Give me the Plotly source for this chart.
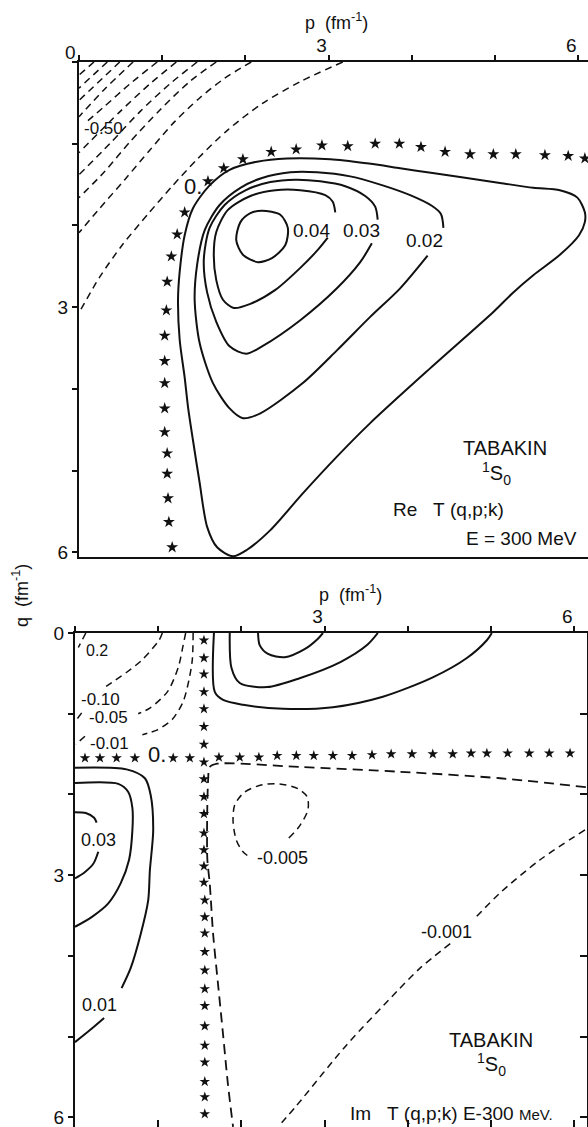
import plotly.graph_objects as go

FONT = "Liberation Sans"
INK = "#111111"
W, H = 588, 1127

# ---------------- upper panel: Re T(q,p;k) ----------------
# zero line (stars)
re_zero_p = [1.12, 1.08, 1.07, 1.06, 1.06, 1.03, 1.03, 1.03, 1.03, 1.03, 1.05, 1.06, 1.11, 1.18, 1.27,
             1.55, 1.74, 1.97, 2.31, 2.61, 2.92, 3.23, 3.56, 3.85, 4.11, 4.40, 4.70, 4.98, 5.25, 5.60,
             5.88, 6.08]
re_zero_q = [5.94, 5.63, 5.34, 5.04, 4.79, 4.53, 4.24, 3.93, 3.66, 3.35, 3.04, 2.69, 2.38, 2.11, 1.84,
             1.46, 1.30, 1.19, 1.10, 1.07, 1.02, 1.03, 1.00, 1.00, 1.04, 1.10, 1.13, 1.13, 1.13, 1.14,
             1.15, 1.18]

# positive levels (solid)
re_c05_p = [2.20, 2.42, 2.51, 2.48, 2.32, 2.15, 1.97, 1.89, 1.94, 2.06, 2.20]
re_c05_q = [1.82, 1.87, 2.03, 2.24, 2.40, 2.45, 2.36, 2.18, 1.96, 1.85, 1.82]

re_c04_p = [3.08, 3.05, 2.96, 2.66, 2.36, 2.06, 1.79, 1.65, 1.62, 1.65, 1.73, 1.86, 2.06, 2.36, 2.66,
            2.87, 2.99]
re_c04_q = [1.84, 1.71, 1.63, 1.57, 1.57, 1.64, 1.81, 2.08, 2.36, 2.67, 2.91, 3.01, 2.96, 2.79, 2.52,
            2.30, 2.15]

re_c03_p = [3.59, 3.56, 3.44, 3.20, 2.90, 2.60, 2.30, 2.00, 1.75, 1.57, 1.50, 1.54, 1.65, 1.81, 2.01,
            2.20, 2.66, 3.10, 3.38, 3.52]
re_c03_q = [1.93, 1.77, 1.64, 1.52, 1.46, 1.44, 1.47, 1.57, 1.75, 2.03, 2.42, 2.82, 3.18, 3.48, 3.57,
            3.48, 3.16, 2.77, 2.45, 2.22]

re_c02_p = [4.38, 4.35, 4.24, 3.98, 3.65, 3.26, 2.86, 2.54, 2.20, 1.94, 1.69, 1.51, 1.42, 1.39, 1.45,
            1.61, 1.81, 1.97, 2.18, 2.69, 3.10, 3.50, 3.86, 4.19]
re_c02_q = [2.03, 1.86, 1.76, 1.63, 1.51, 1.40, 1.35, 1.35, 1.42, 1.54, 1.75, 2.06, 2.48, 2.91, 3.44,
            3.93, 4.24, 4.36, 4.30, 3.93, 3.53, 3.12, 2.77, 2.37]

re_c01_p = [1.85, 1.66, 1.54, 1.45, 1.37, 1.31, 1.27, 1.21, 1.19, 1.21, 1.27, 1.37, 1.57, 1.81, 2.14,
            2.50, 3.02, 3.46, 3.86, 4.25, 4.66, 5.06, 5.46, 5.78, 5.99, 6.08, 6.08, 6.01, 5.78, 5.46,
            5.22, 4.98, 4.22, 3.50, 3.10, 2.69, 2.30, 2.02, 1.85]
re_c01_q = [6.05, 5.94, 5.69, 5.15, 4.63, 4.22, 3.86, 3.40, 2.91, 2.57, 2.12, 1.79, 1.51, 1.32, 1.22,
            1.18, 1.19, 1.24, 1.30, 1.36, 1.42, 1.48, 1.54, 1.57, 1.66, 1.84, 1.96, 2.12, 2.36, 2.61,
            2.82, 3.06, 3.75, 4.42, 4.83, 5.28, 5.73, 5.97, 6.05]

# negative levels (dashed), from the p axis down to the q axis
re_n1_p, re_n1_q = [0.18, 0.00], [0.00, 0.16]
re_n2_p, re_n2_q = [0.34, 0.00], [0.00, 0.32]
re_n3_p, re_n3_q = [0.49, 0.00], [0.00, 0.47]
re_n4_p, re_n4_q = [0.65, 0.31, 0.00], [0.00, 0.33, 0.67]
re_n5_p, re_n5_q = [0.94, 0.61, 0.31, 0.06], [0.00, 0.27, 0.54, 0.76]
re_n6_p, re_n6_q = [1.17, 0.85, 0.49, 0.00], [0.00, 0.27, 0.61, 1.11]
re_n7_p, re_n7_q = [1.42, 1.09, 0.73, 0.37, 0.00], [0.00, 0.27, 0.61, 1.00, 1.38]
re_n8_p, re_n8_q = [1.65, 1.33, 0.97, 0.61, 0.30, 0.00], [0.00, 0.24, 0.59, 0.98, 1.35, 1.66]
re_n9_p = [2.07, 1.75, 1.45, 1.15, 0.85, 0.55, 0.25, 0.00]
re_n9_q = [0.00, 0.20, 0.44, 0.73, 1.08, 1.44, 1.79, 2.09]
re_n10_p = [3.17, 2.66, 2.20, 1.79, 1.43, 1.12, 0.83, 0.52, 0.25, 0.00]
re_n10_q = [0.00, 0.24, 0.51, 0.83, 1.18, 1.52, 1.86, 2.24, 2.63, 3.07]

# ---------------- lower panel: Im T(q,p;k) ----------------
im_zero_row_p = [0.12, 0.30, 0.50, 0.72, 1.18, 1.38, 1.73, 1.98, 2.21, 2.43, 2.66, 2.87, 3.10, 3.33,
                 3.57, 3.80, 4.05, 4.30, 4.54, 4.76, 4.95, 5.20, 5.46, 5.70, 5.95]
im_zero_row_q = [1.55, 1.55, 1.55, 1.55, 1.55, 1.55, 1.54, 1.54, 1.54, 1.52, 1.52, 1.52, 1.52, 1.52,
                 1.51, 1.50, 1.50, 1.50, 1.50, 1.49, 1.49, 1.49, 1.49, 1.49, 1.49]
im_zero_col_p = [1.55] * 15 + [1.56] * 13
im_zero_col_q = [0.09, 0.31, 0.51, 0.73, 0.94, 1.16, 1.38, 1.60, 1.81, 2.03, 2.24, 2.48, 2.69, 2.89,
                 3.09, 3.31, 3.52, 3.72, 3.95, 4.18, 4.41, 4.62, 4.87, 5.11, 5.32, 5.56, 5.75, 5.96]

# positive levels, upper right (solid)
im_ur1_p = [2.20, 2.22, 2.32, 2.52, 2.76, 2.92, 2.98]
im_ur1_q = [0.00, 0.15, 0.26, 0.30, 0.20, 0.07, 0.00]
im_ur2_p = [1.86, 1.88, 1.98, 2.31, 2.70, 3.19, 3.51, 3.64]
im_ur2_q = [0.00, 0.43, 0.62, 0.67, 0.56, 0.36, 0.15, 0.00]
im_ur3_p = [1.67, 1.68, 1.78, 2.02, 2.50, 3.10, 3.70, 4.30, 4.71, 4.95, 5.01]
im_ur3_q = [0.00, 0.73, 0.83, 0.89, 0.94, 0.92, 0.79, 0.55, 0.31, 0.09, 0.00]

# positive levels, lower left (solid)
im_c03a_p, im_c03a_q = [0.00, 0.13, 0.23, 0.26], [2.22, 2.23, 2.29, 2.35]
im_c03b_p, im_c03b_q = [0.28, 0.22, 0.11, 0.00], [2.71, 2.86, 2.97, 3.04]
im_c02_p = [0.00, 0.52, 0.64, 0.69, 0.69, 0.65, 0.55, 0.40, 0.20, 0.00]
im_c02_q = [1.86, 1.87, 1.97, 2.17, 2.44, 2.81, 3.10, 3.35, 3.52, 3.64]
im_c01a_p = [0.00, 0.62, 0.84, 0.91, 0.94, 0.90, 0.88, 0.79, 0.67, 0.56]
im_c01a_q = [1.67, 1.69, 1.80, 2.01, 2.44, 2.94, 3.31, 3.73, 4.15, 4.40]
im_c01b_p, im_c01b_q = [0.35, 0.18, 0.00], [4.77, 4.92, 5.07]

# negative levels (dashed)
im_n02_p, im_n02_q = [0.13, 0.04], [0.00, 0.18]
im_n010_p = [1.05, 1.01, 0.81, 0.63, 0.49, 0.35]
im_n010_q = [0.00, 0.09, 0.33, 0.48, 0.58, 0.68]
im_n005_p = [1.33, 1.30, 1.24, 1.11, 0.90, 0.76]
im_n005_q = [0.00, 0.15, 0.43, 0.73, 0.93, 1.00]
im_n005s_p, im_n005s_q = [0.08, 0.00], [0.99, 1.10]
im_n001_p = [1.42, 1.41, 1.37, 1.30, 1.17, 0.99, 0.81]
im_n001_q = [0.00, 0.33, 0.58, 0.85, 1.07, 1.20, 1.26]
im_n001s_p, im_n001s_q = [0.12, 0.01], [1.28, 1.38]
im_edge_p = [6.14, 5.11, 3.91, 2.70, 1.71, 1.62, 1.60, 1.59, 1.62, 1.66, 1.72, 1.78, 1.84, 1.90]
im_edge_q = [1.91, 1.80, 1.72, 1.66, 1.62, 1.66, 1.82, 2.79, 3.11, 3.73, 4.36, 4.98, 5.61, 6.12]
im_n0005_p = [2.57, 2.70, 2.80, 2.79, 2.68, 2.46, 2.25, 2.04, 1.92, 1.90, 1.94, 2.01, 2.10]
im_n0005_q = [2.54, 2.39, 2.19, 2.03, 1.93, 1.87, 1.88, 1.97, 2.13, 2.34, 2.57, 2.70, 2.78]
im_n0001a_p, im_n0001a_q = [6.13, 5.59, 5.11, 4.82], [2.44, 2.81, 3.22, 3.52]
im_n0001b_p = [4.51, 4.15, 3.87, 3.26, 2.66, 2.44]
im_n0001b_q = [3.85, 4.15, 4.44, 5.11, 5.86, 6.12]

# labelled ticks every 3 fm^-1, plain ticks every 1 fm^-1
MAJOR = [0, 3, 6]
MAJOR_NOZERO = [3, 6]
MINOR = [0, 1, 2, 4, 5]

fig = go.Figure()


def curve(p, q, panel, dash="solid", width=2.0, smooth=True):
    ax = "" if panel == 1 else "2"
    fig.add_trace(go.Scatter(
        x=p, y=q, xaxis="x" + ax, yaxis="y" + ax, mode="lines",
        line=dict(color=INK, width=width, dash=dash,
                  shape="spline" if smooth else "linear", smoothing=0.8),
        hoverinfo="skip"))


def stars(p, q, panel, size=9):
    ax = "" if panel == 1 else "2"
    fig.add_trace(go.Scatter(
        x=p, y=q, xaxis="x" + ax, yaxis="y" + ax, mode="markers",
        marker=dict(symbol="star", size=size, color=INK, line=dict(width=0)),
        hoverinfo="skip"))


def label(text, p, q, panel, size=18, xanchor="center"):
    ax = "" if panel == 1 else "2"
    fig.add_annotation(x=p, y=q, xref="x" + ax, yref="y" + ax, text=text, showarrow=False,
                       xanchor=xanchor, yanchor="middle",
                       font=dict(family=FONT, size=size, color=INK))


def paper_text(text, px, py, size=18, angle=0):
    fig.add_annotation(x=px / W, y=1 - py / H, xref="paper", yref="paper", showarrow=False,
                       xanchor="center", yanchor="middle", textangle=angle, text=text,
                       font=dict(family=FONT, size=size, color=INK))


DASH = "7px,5px"

# upper panel
for p, q in [(re_n1_p, re_n1_q), (re_n2_p, re_n2_q), (re_n3_p, re_n3_q), (re_n4_p, re_n4_q),
             (re_n5_p, re_n5_q), (re_n6_p, re_n6_q), (re_n7_p, re_n7_q), (re_n8_p, re_n8_q),
             (re_n9_p, re_n9_q), (re_n10_p, re_n10_q)]:
    curve(p, q, 1, dash=DASH, width=1.5)
for p, q in [(re_c05_p, re_c05_q), (re_c04_p, re_c04_q), (re_c03_p, re_c03_q),
             (re_c02_p, re_c02_q), (re_c01_p, re_c01_q)]:
    curve(p, q, 1)
stars(re_zero_p, re_zero_q, 1)

label("-0.50", 0.29, 0.81, 1, size=17)
label("0.", 1.37, 1.53, 1, size=22)
label("0.04", 2.80, 2.06, 1, size=19)
label("0.03", 3.40, 2.06, 1, size=19)
label("0.02", 4.15, 2.18, 1, size=19)
label("TABAKIN", 5.12, 4.72, 1, size=20)
label("<sup>1</sup>S<sub>0</sub>", 5.02, 5.04, 1, size=20)
label("Re\u00a0\u00a0\u00a0T\u00a0(q,p;k)", 4.44, 5.48, 1, size=19)
label("E = 300 MeV", 5.32, 5.83, 1, size=19)

# lower panel
for p, q in [(im_n02_p, im_n02_q), (im_n010_p, im_n010_q), (im_n005_p, im_n005_q),
             (im_n005s_p, im_n005s_q), (im_n001_p, im_n001_q), (im_n001s_p, im_n001s_q),
             (im_n0005_p, im_n0005_q), (im_n0001a_p, im_n0001a_q), (im_n0001b_p, im_n0001b_q)]:
    curve(p, q, 2, dash=DASH, width=1.5)
curve(im_edge_p, im_edge_q, 2, dash="10px,6px", width=1.8)
for p, q in [(im_ur1_p, im_ur1_q), (im_ur2_p, im_ur2_q), (im_ur3_p, im_ur3_q),
             (im_c03a_p, im_c03a_q), (im_c03b_p, im_c03b_q), (im_c02_p, im_c02_q),
             (im_c01a_p, im_c01a_q), (im_c01b_p, im_c01b_q)]:
    curve(p, q, 2)
stars(im_zero_row_p, im_zero_row_q, 2, size=8)
stars(im_zero_col_p, im_zero_col_q, 2, size=8)

label("0.2", 0.26, 0.22, 2, size=16)
label("-0.10", 0.31, 0.82, 2, size=17)
label("-0.05", 0.40, 1.05, 2, size=17)
label("-0.01", 0.42, 1.37, 2, size=17)
label("0.", 0.99, 1.50, 2, size=22)
label("0.03", 0.28, 2.57, 2, size=18)
label("0.01", 0.30, 4.61, 2, size=18)
label("-0.005", 2.49, 2.79, 2, size=18)
label("-0.001", 4.47, 3.71, 2, size=18)
label("TABAKIN", 5.00, 5.04, 2, size=20)
label("<sup>1</sup>S<sub>0</sub>", 5.00, 5.35, 2, size=20)
label("Im\u00a0\u00a0\u00a0T\u00a0(q,p;k)\u00a0E-300\u00a0<span style='font-size:15px'>MeV.</span>",
      3.28, 5.96, 2, size=19, xanchor="left")

# empty traces that bring the inner-tick frame axes of the lower panel into play
fig.add_trace(go.Scatter(x=[], y=[], xaxis="x3", yaxis="y2", hoverinfo="skip"))
fig.add_trace(go.Scatter(x=[], y=[], xaxis="x2", yaxis="y3", hoverinfo="skip"))

axis_common = dict(showgrid=False, zeroline=False, showline=True, linecolor=INK, linewidth=2,
                   tickcolor=INK, tickwidth=1.5, tickmode="array", fixedrange=True,
                   automargin=False, ticklabeloverflow="allow",
                   tickfont=dict(family=FONT, size=19, color=INK))


def minor(kind):
    return dict(tickmode="array", tickvals=MINOR, ticks=kind, ticklen=5 if kind == "outside" else 7,
                tickwidth=1.5, tickcolor=INK, showgrid=False)


top_y0 = 1 - 557 / H
top_y1 = 1 - 62 / H
bot_y1 = 1 - 633 / H

fig.update_layout(
    width=W, height=H, margin=dict(l=0, r=0, t=0, b=0, autoexpand=False),
    paper_bgcolor="white", plot_bgcolor="white", showlegend=False,
    xaxis=dict(axis_common, domain=[79 / W, 1.0], range=[0, 509 / 83.2], side="top",
               anchor="y", mirror=True, ticks="outside", ticklen=5, tickvals=MAJOR_NOZERO,
               ticklabelshift=-7, ticklabelstandoff=-5, minor=minor("outside")),
    yaxis=dict(axis_common, domain=[top_y0, top_y1], range=[495 / 81.7, 0], anchor="x",
               ticks="outside", ticklen=5, tickvals=MAJOR_NOZERO, minor=minor("outside")),
    xaxis2=dict(axis_common, domain=[75 / W, 587 / W], range=[0, 512 / 83.2], side="top",
                anchor="y2", ticks="outside", ticklen=5, tickvals=MAJOR_NOZERO,
                ticklabelshift=-7, ticklabelstandoff=-5, minor=minor("outside")),
    yaxis2=dict(axis_common, domain=[0, bot_y1], range=[494 / 80.7, 0], anchor="x2",
                ticks="outside", ticklen=5, tickvals=MAJOR, minor=minor("outside")),
    xaxis3=dict(axis_common, overlaying="x2", side="bottom", anchor="y2",
                range=[0, 512 / 83.2], showline=False, ticks="inside", ticklen=7,
                tickvals=MAJOR, showticklabels=False, minor=minor("inside")),
    yaxis3=dict(axis_common, overlaying="y2", side="right", anchor="x2",
                range=[494 / 80.7, 0], ticks="inside", ticklen=7, tickvals=MAJOR,
                showticklabels=False, minor=minor("inside")),
)

# axis titles
paper_text("p\u00a0\u00a0(fm<sup>-1</sup>)", 336, 22)
paper_text("p\u00a0\u00a0(fm<sup>-1</sup>)", 350, 594)
paper_text("q\u00a0\u00a0(fm<sup>-1</sup>)", 20, 596, angle=-90)
# shared zero at the corner of the upper panel
paper_text("0", 70, 53, size=19)

fig.write_html("out.html")
